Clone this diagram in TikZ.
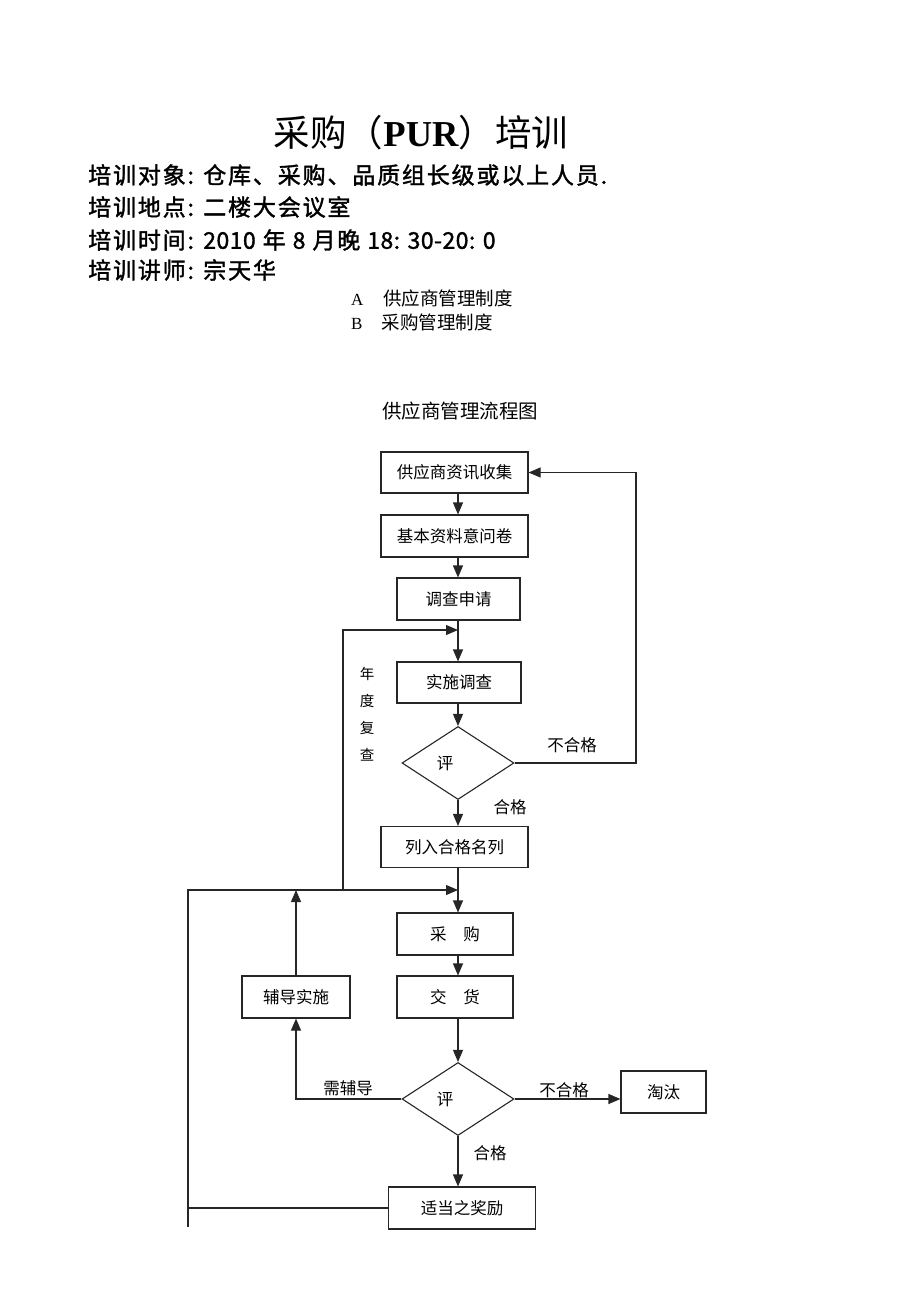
\documentclass[tikz,border=0pt]{standalone}
\usepackage{fontspec}
\setmainfont{Liberation Serif}
\newfontfamily\cjk{Noto Sans CJK SC}
\newfontfamily\cjkb{Noto Sans CJK SC}[FakeBold=1.5,LetterSpace=8]
\newfontfamily\cjkbn{Noto Sans CJK SC}[FakeBold=1.5,LetterSpace=2]
\usetikzlibrary{arrows.meta,shapes.geometric}
\begin{document}
\begin{tikzpicture}[x=1pt,y=-1pt,
  every node/.style={font=\cjk},
  stepbox/.style={draw=black!85,line width=1.1pt,inner sep=0pt,font=\cjk\fontsize{16.5}{18}\selectfont},
  judge/.style={draw=black!85,line width=1.1pt,diamond,inner sep=0pt,minimum width=112pt,minimum height=73pt},
  lbl/.style={font=\cjk\fontsize{16.5}{18}\selectfont,inner sep=0pt},
  ln/.style={draw=black!85,line width=1.1pt},
  arr/.style={ln,-{Triangle[length=12pt,width=10pt]}},
  head/.style={anchor=west,inner sep=0pt,font=\cjkb\fontsize{23}{26}\selectfont}
]
\useasboundingbox (0,0) rectangle (920,1302);

% title and header
\node[inner sep=0pt] (title) at (421,133) {\fontsize{36.5}{40}\selectfont\cjk 采购（{\rmfamily\bfseries PUR}）培训};
\node[head] (h1) at (88,175) {培训对象: 仓库、采购、品质组长级或以上人员.};
\node[head] (h2) at (88,207) {培训地点: 二楼大会议室};
\node[head] (h3) at (88,240) {培训时间: {\cjkbn 2010} 年 {\cjkbn 8} 月晚 {\cjkbn 18: 30-20: 0}};
\node[head] (h4) at (88,270) {培训讲师: 宗天华};
\node[anchor=west,inner sep=0pt,font=\fontsize{17}{20}\selectfont] (la) at (351,298) {A\hspace{20pt}{\cjk\fontsize{18.5}{20}\selectfont 供应商管理制度}};
\node[anchor=west,inner sep=0pt,font=\fontsize{17}{20}\selectfont] (lb) at (351,322) {B\hspace{19pt}{\cjk\fontsize{18.5}{20}\selectfont 采购管理制度}};
\node[inner sep=0pt,font=\cjk\fontsize{19.5}{21}\selectfont] (ftitle) at (460,411) {供应商管理流程图};

% boxes
\coordinate (ax) at (458,0);
\node[stepbox,minimum width=147pt,minimum height=41pt] (b1) at (454.5,472.5) {供应商资讯收集};
\node[stepbox,minimum width=147pt,minimum height=42pt] (b2) at (454.5,536) {基本资料意问卷};
\node[stepbox,minimum width=123pt,minimum height=42pt] (b3) at (458.5,599) {调查申请};
\node[stepbox,minimum width=124pt,minimum height=41pt] (b4) at (459,682.5) {实施调查};
\node[judge,label={[lbl,xshift=-13pt]center:评}] (d1) at (458,763) {};
\node[stepbox,minimum width=147pt,minimum height=41pt] (b5) at (454.5,847) {列入合格名列};
\node[stepbox,minimum width=116pt,minimum height=42pt] (b6) at (455,934) {采\hspace{17pt}购};
\node[stepbox,minimum width=116pt,minimum height=42pt] (b7) at (455,997) {交\hspace{17pt}货};
\node[stepbox,minimum width=108pt,minimum height=42pt] (fd) at (296,997) {辅导实施};
\node[judge,label={[lbl,xshift=-13pt]center:评}] (d2) at (458,1099) {};
\node[stepbox,minimum width=85pt,minimum height=42pt] (tt) at (663.5,1092) {淘汰};
\node[stepbox,minimum width=147pt,minimum height=42pt] (jl) at (462,1208) {适当之奖励};

% main flow
\draw[arr] (b1.south -| ax) -- (b2.north -| ax);
\draw[arr] (b2.south -| ax) -- (b3.north -| ax);
\draw[arr] (b3.south -| ax) -- (b4.north -| ax);
\draw[arr] (b4.south -| ax) -- (d1.north);
\draw[arr] (d1.south) -- (b5.north -| ax);
\draw[arr] (b5.south -| ax) -- (b6.north -| ax);
\draw[arr] (b6.south -| ax) -- (b7.north -| ax);
\draw[arr] (b7.south -| ax) -- (d2.north);

% first evaluation: fail loop
\coordinate (r1) at (636,763);
\draw[arr] (d1.east) -- (r1) -- (r1 |- b1.east) -- (b1.east);
\node[lbl] (nf1) at (572,745) {不合格};
\node[lbl] (ok1) at (510,807) {合格};

% second evaluation
\draw[arr] (d2.east) -- (tt.west |- d2.east);
\node[lbl] (nf2) at (564,1090) {不合格};
\draw[arr] (d2.south) -- (jl.north -| d2.south);
\node[lbl] (ok2) at (490,1153) {合格};
\coordinate (gl) at (296,1099);
\draw[arr] (d2.west) -- (gl) -- (fd.south);
\node[lbl] (need) at (348,1088) {需辅导};

% guidance back to purchasing
\coordinate (j890) at (458,890);
\coordinate (l890) at (188,890);
\draw[arr] (fd.north) -- (fd.north |- j890);
\coordinate (lbot) at (188,1227);
\draw[ln] (jl.west) -- (jl.west -| lbot);
\draw[arr] (lbot) -- (l890) -- (j890);

% annual review
\coordinate (y890) at (343,890);
\coordinate (y630) at (343,630);
\coordinate (m630) at (458,630);
\draw[arr] (y890) -- (y630) -- (m630);
\node[inner sep=0pt,font=\cjk\fontsize{14.5}{15}\selectfont,align=center] (yr) at (367,714) {年\\[12pt]度\\[12pt]复\\[12pt]查};

\end{tikzpicture}
\end{document}
